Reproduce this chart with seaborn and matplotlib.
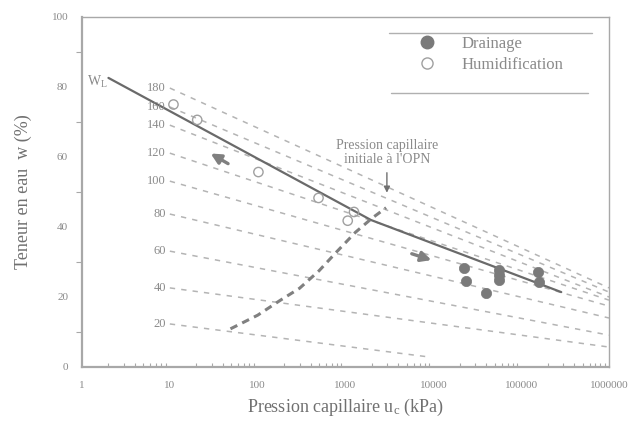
import numpy as np
import pandas as pd
import matplotlib
matplotlib.use("Agg")
import matplotlib.pyplot as plt
import seaborn as sns
from matplotlib.lines import Line2D

# ---------------- data ----------------
iso_labels = ["180", "160", "140", "120", "100", "80", "60", "40", "20"]
iso_x_start = [10, 10, 10, 10, 10, 10, 10, 10, 10]
iso_w_start = [79.7, 74.3, 69.1, 61.1, 53.1, 43.7, 33.1, 22.6, 12.3]
iso_x_end = [1e6, 1e6, 1e6, 1e6, 1e6, 1e6, 1e6, 1e6, 8700]
iso_w_end = [22.6, 21.4, 20.0, 19.1, 17.4, 14.0, 9.1, 5.7, 2.9]

curve_x = [2.0, 1950, 286000]
curve_w = [82.6, 42.0, 21.4]

opn_x = [49, 100, 182, 300, 500, 800, 1300, 2000, 2900]
opn_w = [10.9, 14.8, 19.1, 22.5, 27.5, 33.0, 38.5, 42.5, 45.5]

drain_x = [22300, 23600, 39800, 56100, 56100, 56100, 156000, 160000]
drain_w = [28.3, 24.6, 21.1, 27.7, 26.3, 24.9, 27.1, 24.3]

humid_x = [11, 20.5, 102, 493, 1060, 1250]
humid_w = [75.0, 70.6, 55.7, 48.3, 41.8, 44.3]

x_ticks = [1, 10, 100, 1000, 10000, 100000, 1000000]
x_tick_labels = ["1", "10", "100", "1000", "10000", "100000", "1000000"]
y_ticks = [0, 20, 40, 60, 80, 100]

# ---------------- style ----------------
sns.set_theme(style="white")
plt.rcParams["font.family"] = ["Liberation Serif", "DejaVu Serif"]
plt.rcParams["mathtext.fontset"] = "custom"
plt.rcParams["mathtext.rm"] = "Liberation Serif"
plt.rcParams["mathtext.it"] = "Liberation Serif:italic"

axis_col = "#a8a8a8"
text_col = "#8a8a8a"

fig = plt.figure(figsize=(6.38, 4.28), dpi=100)
ax = fig.add_axes([82 / 638, 1 - 367 / 428, 527 / 638, 350 / 428])

# iso lines (light dashed)
for lab, x0, w0, x1, w1 in zip(iso_labels, iso_x_start, iso_w_start, iso_x_end, iso_w_end):
    df = pd.DataFrame({"x": [x0, x1], "w": [w0, w1]})
    sns.lineplot(data=df, x="x", y="w", ax=ax, color="#b4b4b4", lw=1.1,
                 linestyle=(0, (3.5, 4)), estimator=None, sort=False)
    ax.text(9.0, w0, lab, ha="right", va="center", fontsize=9, color=text_col)

# main solid curve
sns.lineplot(x=curve_x, y=curve_w, ax=ax, color="#6a6a6a", lw=1.6,
             estimator=None, sort=False)

# initial capillary pressure curve (thick dashed)
sns.lineplot(x=opn_x, y=opn_w, ax=ax, color="#808080", lw=2.2,
             linestyle=(0, (2.5, 1.8)), estimator=None, sort=False)

# points
sns.scatterplot(x=drain_x, y=drain_w, ax=ax, color="#7a7a7a", s=55,
                edgecolor="#7a7a7a", linewidth=0.5, zorder=5)
sns.scatterplot(x=humid_x, y=humid_w, ax=ax, facecolor="none", s=45,
                edgecolor="#a0a0a0", linewidth=1.0, zorder=5)

# arrows
ax.annotate("", xy=(27.4, 61.4), xytext=(49, 57.7),
            arrowprops=dict(arrowstyle="-|>", color="#808080", lw=2.4,
                            mutation_scale=15))
ax.annotate("", xy=(10200, 30.3), xytext=(5300, 32.6),
            arrowprops=dict(arrowstyle="-|>", color="#808080", lw=2.4,
                            mutation_scale=15))
ax.annotate("", xy=(2960, 49.0), xytext=(2960, 56.3),
            arrowprops=dict(arrowstyle="-|>", color="#707070", lw=1.0,
                            mutation_scale=9))
ax.text(2960, 61.3, "Pression capillaire\ninitiale à l'OPN", ha="center",
        va="center", fontsize=10, color=text_col, linespacing=1.05)
ax.text(1.95, 81.5, r"W$_\mathrm{L}$", ha="right", va="center",
        fontsize=10, color=text_col)

# axes
ax.set_xscale("log")
ax.set_xlim(1, 1e6)
ax.set_ylim(0, 100)
ax.set_xticks(x_ticks)
ax.set_xticklabels(x_tick_labels)
ax.set_yticks(y_ticks)
ax.set_yticks([10, 30, 50, 70, 90], minor=True)
ax.xaxis.set_minor_locator(matplotlib.ticker.LogLocator(base=10, subs=np.arange(2, 10)))
ax.xaxis.set_minor_formatter(matplotlib.ticker.NullFormatter())
ax.tick_params(axis="x", which="major", direction="in", length=6, width=1,
               color=axis_col, labelsize=8, labelcolor=text_col, pad=10)
ax.tick_params(axis="x", which="minor", direction="in", length=3, width=0.8,
               color=axis_col, bottom=True)
ax.tick_params(axis="y", which="major", direction="out", length=8, width=1,
               color=axis_col, labelsize=8, labelcolor=text_col, pad=2)
ax.tick_params(axis="y", which="minor", direction="out", length=4, width=0.8,
               color=axis_col, left=True)
for side, sp in ax.spines.items():
    sp.set_color(axis_col)
    sp.set_linewidth(1.6 if side in ("left", "bottom") else 1.0)

ax.set_xlabel(r"Pression capillaire u$_\mathrm{c}$ (kPa)", fontsize=13,
              color="#707070", labelpad=5)
ax.set_ylabel("Teneur en eau  w (%)", fontsize=13, color="#707070", labelpad=14)

# legend (only top and bottom rules)
handles = [
    Line2D([], [], marker="o", linestyle="none", markersize=9,
           markerfacecolor="#7a7a7a", markeredgecolor="#7a7a7a"),
    Line2D([], [], marker="o", linestyle="none", markersize=8,
           markerfacecolor="none", markeredgecolor="#a0a0a0"),
]
leg = ax.legend(handles, ["Drainage", "Humidification"], loc="upper left",
                bbox_to_anchor=(0.61, 0.965), frameon=False, fontsize=12,
                handletextpad=1.1, labelspacing=0.3, borderaxespad=0)
for t in leg.get_texts():
    t.set_color("#8a8a8a")
ax.plot([0.583, 0.968], [0.954, 0.954], transform=ax.transAxes,
        color="#b0b0b0", lw=1.0, clip_on=False)
ax.plot([0.587, 0.961], [0.783, 0.783], transform=ax.transAxes,
        color="#b0b0b0", lw=1.0, clip_on=False)

fig.savefig("out.png", dpi=100)
